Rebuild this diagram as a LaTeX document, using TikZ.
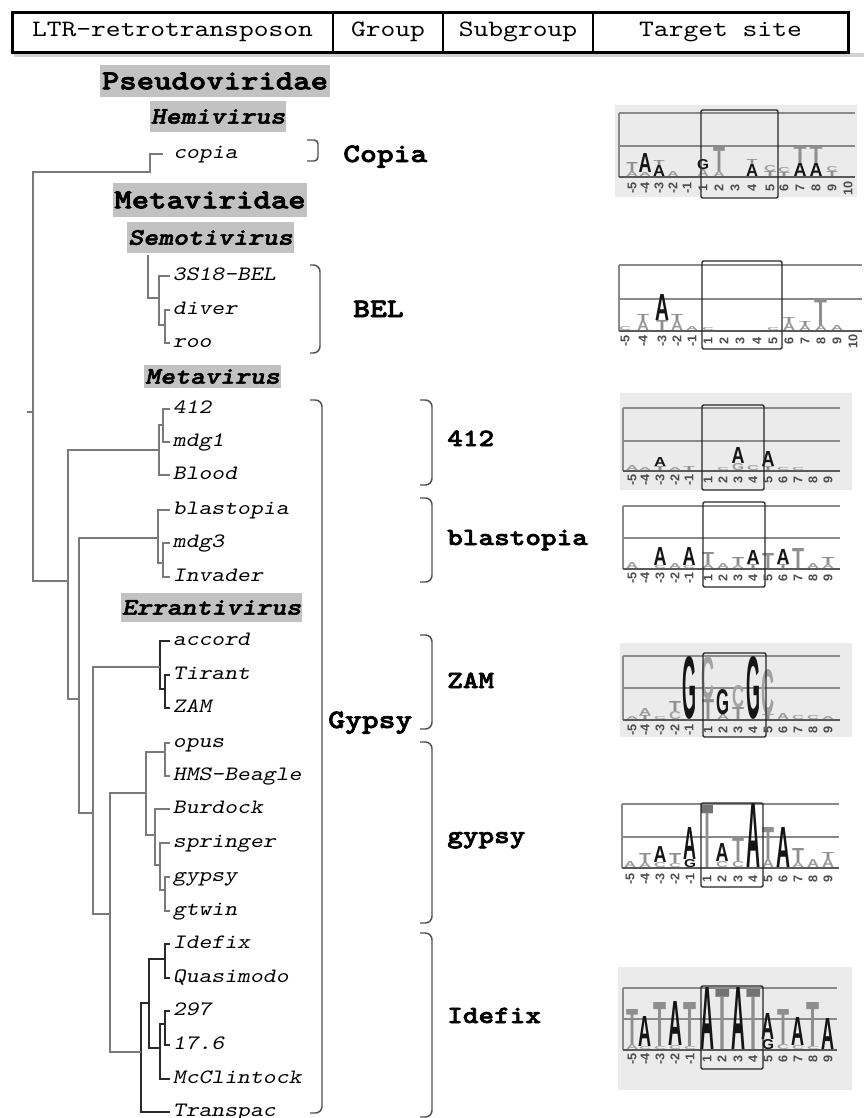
\documentclass[tikz,border=0pt]{standalone}
\usepackage{fontspec}
\usepackage{graphicx}
\newfontfamily\monof{lmmono10-regular}[Extension=.otf, ItalicFont=lmmonoslant10-regular, BoldFont=lmmonolt10-bold, BoldItalicFont=lmmonolt10-boldoblique, FakeStretch=1.2, BoldFeatures={FakeBold=2.5}, BoldItalicFeatures={FakeBold=2}]
\newfontfamily\sansf{Liberation Sans}
\newdimen\pxu \pxu=0.75pt
\newcounter{gl}
\definecolor{treeg}{HTML}{7A7A7A}
\definecolor{treed}{HTML}{2A2A2A}
\definecolor{hilite}{HTML}{C2C2C2}
\definecolor{logobg}{HTML}{EBEBEB}
\definecolor{la}{HTML}{151515}
\definecolor{lt}{HTML}{8E8E8E}
\definecolor{lc}{HTML}{A2A2A2}
\definecolor{ls}{HTML}{9A9A9A}
\definecolor{gridc}{HTML}{8A8A8A}
\definecolor{brk}{HTML}{505050}
\tikzset{
 leaf/.style={anchor=base west, inner xsep=2pt, inner ysep=0pt, text height=6pt, text depth=0pt, font=\monof\itshape\fontsize{15.3}{16}\selectfont, text=black},
 tree/.style={draw=treeg, line width=1.35pt},
 treek/.style={draw=treed, line width=1.35pt},
 brace/.style={draw=brk, line width=1.1pt, rounded corners=5pt},
 grp/.style={anchor=base west, inner sep=0pt, font=\monof\bfseries\fontsize{20}{21}\selectfont},
 sub/.style={anchor=base west, inner sep=0pt, font=\monof\bfseries\fontsize{18.6}{20}\selectfont},
 fam/.style={fill=hilite, inner sep=0pt, font=\monof\bfseries\fontsize{20.7}{22}\selectfont},
 genus/.style={fill=hilite, inner sep=0pt, font=\monof\bfseries\itshape\fontsize{17.8}{19}\selectfont},
 hdr/.style={inner sep=0pt, font=\monof\fontsize{17.6}{19}\selectfont},
 gridl/.style={draw=gridc, line width=1pt},
 basel/.style={draw=black!65, line width=1.6pt},
 lbox/.style={draw=black!85, line width=1pt, rounded corners=1pt},
 num/.style={rotate=90, inner sep=0pt, font=\sansf\bfseries\fontsize{9.5}{9.5}\selectfont, text=black!70},
 glyph/.style={anchor=south, inner sep=0pt, font=\sansf\bfseries},
}
\newcommand\logoframe[5]{%
  \draw[gridl] (#1,#3) -- (#2,#3) (#1,#4) -- (#2,#4) (#1,#3) -- (#1,#5);
  \draw[basel] (#1,#5) -- (#2,#5);}
\newcommand\logobox[4]{\draw[lbox] (#1,#2) rectangle (#3,#4);}
\newcommand\nums[2]{\foreach \xx/\lab in {#1} {\node[num] at (\xx,#2) {\lab};}}
\newcommand\LL[6]{\stepcounter{gl}\node[glyph,text=#6] (g\arabic{gl}) at (#1,#2) {\resizebox{#4\pxu}{#3\pxu}{#5}};}

\begin{document}
\begin{tikzpicture}[x=0.75pt,y=-0.75pt]
\useasboundingbox (0,0) rectangle (864,1118);

% ---------------- header ----------------
\fill[black!18] (14,53) rectangle (864,57);
\draw[line width=2.25pt] (12,12) rectangle (848,52);
\draw[line width=1.3pt] (333,12) -- (333,52) (443,12) -- (443,52) (593,12) -- (593,52);
\node[hdr] (h1) at (172.5,32) {LTR-retrotransposon};
\node[hdr] (h2) at (388,32) {Group};
\node[hdr] (h3) at (518,32) {Subgroup};
\node[hdr] (h4) at (720.5,32) {Target site};

% ---------------- taxon highlights ----------------
\node[fam, minimum width=172.5pt, minimum height=24pt] (pseudo) at (215,81) {Pseudoviridae};
\node[genus, minimum width=102pt, minimum height=23.25pt] (hemi) at (218,116.5) {Hemivirus};
\node[fam, minimum width=145.5pt, minimum height=25.5pt] (metavir) at (210,200) {Metaviridae};
\node[genus, minimum width=125.25pt, minimum height=23.25pt] (semo) at (210.5,237.5) {Semotivirus};
\node[genus, minimum width=102.75pt, minimum height=17.25pt] (meta) at (212.5,376.5) {Metavirus};
\node[genus, minimum width=135.75pt, minimum height=21.75pt] (erra) at (211.5,607.5) {Errantivirus};

% ---------------- leaves ----------------
\node[leaf, inner xsep=7.5pt] (copia) at (163,158) {copia};
\node[leaf] (s3S18) at (170,280) {3S18-BEL};
\node[leaf] (diver) at (170,314) {diver};
\node[leaf] (roo) at (170,347) {roo};
\node[leaf] (n412) at (170,413) {412};
\node[leaf] (mdg1) at (170,446) {mdg1};
\node[leaf] (Blood) at (170,479) {Blood};
\node[leaf] (blastopia) at (170,514) {blastopia};
\node[leaf] (mdg3) at (170,547) {mdg3};
\node[leaf] (Invader) at (170,581) {Invader};
\node[leaf] (accord) at (170,645) {accord};
\node[leaf] (Tirant) at (170,679) {Tirant};
\node[leaf] (ZAM) at (170,712) {ZAM};
\node[leaf] (opus) at (170,747) {opus};
\node[leaf] (HMS) at (170,780) {HMS-Beagle};
\node[leaf] (Burdock) at (170,813) {Burdock};
\node[leaf] (springer) at (170,847) {springer};
\node[leaf] (gypsy) at (170,881) {gypsy};
\node[leaf] (gtwin) at (170,915) {gtwin};
\node[leaf] (Idefix) at (170,948) {Idefix};
\node[leaf] (Quasimodo) at (170,982) {Quasimodo};
\node[leaf] (n297) at (170,1015) {297};
\node[leaf] (n176) at (170,1049) {17.6};
\node[leaf] (McClintock) at (170,1083) {McClintock};
\node[leaf] (Transpac) at (170,1116) {Transpac};

% ---------------- tree ----------------
\coordinate (Rs) at (27,412);
\coordinate (R) at (33,412);
\coordinate (Ccop) at (150,172);
\coordinate (A1) at (68,581);
\coordinate (N412) at (159,450);
\coordinate (N412a) at (163,425);
\coordinate (A2) at (79,699);
\coordinate (Nbla) at (158,538);
\coordinate (Nbla2) at (163,563);
\coordinate (A3) at (93,813);
\coordinate (NZAM) at (160,667);
\coordinate (NZ2) at (165,689);
\coordinate (A4) at (110,914);
\coordinate (Ngyp) at (146,793);
\coordinate (Nopus) at (165,752);
\coordinate (Nbur) at (155,835);
\coordinate (Nspr) at (160,865);
\coordinate (Ngg) at (165,890);
\coordinate (Nide) at (141,1052);
\coordinate (Nid2) at (149,1003);
\coordinate (NidQ) at (165,959);
\coordinate (N297) at (160,1048);
\coordinate (N2976) at (165,1024);
\coordinate (NBEL) at (159,298);
\coordinate (NBEL2) at (165,325);
\coordinate (NBELp) at (148,255);

\draw[tree] (Rs) -- (R);
\draw[tree] (copia.west) -| (Ccop) -| (R);
\draw[tree] (A1) -| (R);
\draw[tree] (n412.west) -| (N412a) (mdg1.west) -| (N412a) (N412a) -| (N412)
            (Blood.west) -| (N412) (N412) -| (A1);
\draw[tree] (A2) -| (A1);
\draw[tree] (blastopia.west) -| (Nbla) (mdg3.west) -| (Nbla2) (Invader.west) -| (Nbla2)
            (Nbla2) -| (Nbla) (Nbla) -| (A2);
\draw[tree] (A3) -| (A2);
\draw[treek] (accord.west) -| (NZAM) (Tirant.west) -| (NZ2) (ZAM.west) -| (NZ2) (NZ2) -| (NZAM);
\draw[tree] (NZAM) -| (A3);
\draw[tree] (A4) -| (A3);
\draw[tree] (opus.west) -| (Nopus) (HMS.west) -| (Nopus) (Nopus) -| (Ngyp)
            (Burdock.west) -| (Nbur) (springer.west) -| (Nspr)
            (gypsy.west) -| (Ngg) (gtwin.west) -| (Ngg) (Ngg) -| (Nspr) (Nspr) -| (Nbur)
            (Nbur) -| (Ngyp) (Ngyp) -| (A4);
\draw[treek] (Idefix.west) -| (NidQ) (Quasimodo.west) -| (NidQ) (NidQ) -| (Nid2)
            (n297.west) -| (N2976) (n176.west) -| (N2976) (N2976) -| (N297)
            (McClintock.west) -| (N297) (N297) -| (Nid2) (Nid2) -| (Nide)
            (Transpac.west) -| (Nide);
\draw[tree] (Nide) -| (A4);
\draw[tree] (s3S18.west) -| (NBEL) (diver.west) -| (NBEL2) (roo.west) -| (NBEL2)
            (NBEL2) -| (NBEL) (NBEL) -| (NBELp);

% ---------------- brackets ----------------
\draw[brace, rounded corners=3pt] (307,140) -- (318,140) -- (318,161) -- (307,161);
\draw[brace] (310,265) -- (320,265) -- (320,353) -- (310,353);
\draw[brace] (310,400) -- (322,400) -- (322,1113) -- (310,1113);
\draw[brace] (420,400) -- (432,400) -- (432,485) -- (420,485);
\draw[brace] (420,498) -- (432,498) -- (432,582) -- (420,582);
\draw[brace] (420,635) -- (432,635) -- (432,729) -- (420,729);
\draw[brace] (420,742) -- (432,742) -- (432,923) -- (420,923);
\draw[brace] (420,933) -- (432,933) -- (432,1117) -- (420,1117);

% ---------------- group / subgroup labels ----------------
\node[grp] (gCopia) at (343,162) {Copia};
\node[grp] (gBEL) at (353,317) {BEL};
\node[grp] (gGypsy) at (328,728) {Gypsy};
\node[sub] (s412) at (447,446) {412};
\node[sub] (sbla) at (447,545) {blastopia};
\node[sub] (sZAM) at (447,688) {ZAM};
\node[sub] (sgyp) at (447,843) {gypsy};
\node[sub] (side) at (447,1023) {Idefix};

% ---------------- logo 1: copia ----------------
\fill[logobg] (615,105) rectangle (857,197);
\logoframe{619}{855}{113}{146}{177}
\LL{632}{177}{5}{12}{A}{ls} \LL{632}{172}{9}{11}{T}{lt}
\LL{645}{177}{4}{12}{A}{ls} \LL{645}{173}{19}{13}{A}{la}
\LL{659}{177}{11}{12}{A}{la} \LL{659}{166}{5}{11}{T}{lt}
\LL{673}{177}{5}{11}{A}{ls}
\LL{703}{177}{7}{11}{A}{ls} \LL{703}{170}{10}{12}{G}{la}
\LL{719}{177}{5}{11}{A}{ls} \LL{719}{172}{24}{12}{T}{lt}
\LL{752}{177}{12}{12}{A}{la} \LL{752}{165}{5}{11}{T}{lt}
\LL{770}{177}{5}{12}{T}{lt} \LL{770}{172}{6}{12}{C}{lc}
\LL{784}{177}{4}{12}{T}{lt} \LL{784}{173}{5}{12}{C}{lc}
\LL{800}{177}{13}{13}{A}{la} \LL{800}{164}{17}{13}{T}{lt}
\LL{816}{177}{13}{13}{A}{la} \LL{816}{164}{17}{13}{T}{lt}
\LL{832}{177}{5}{11}{T}{lt} \LL{832}{172}{5}{11}{C}{lc}
\logobox{701}{110}{778}{198}
\nums{632/-5,645/-4,659/-3,673/-2,687/-1,703/1,719/2,735/3,752/4,770/5,784/6,800/7,816/8,832/9,848/10}{188}

% ---------------- logo 2: BEL ----------------
\logoframe{619}{862}{265}{299}{331}
\LL{625}{331}{4}{12}{C}{lc}
\LL{643}{331}{10}{12}{A}{ls} \LL{643}{321}{6}{12}{T}{lt}
\LL{662}{331}{10}{12}{T}{lt} \LL{662}{321}{26}{14}{A}{la}
\LL{677}{331}{10}{12}{A}{ls} \LL{677}{321}{6}{12}{T}{lt}
\LL{692}{331}{4}{12}{A}{ls}
\LL{708}{331}{3}{12}{C}{lc}
\LL{773}{331}{3}{12}{C}{lc}
\LL{789}{331}{8}{12}{A}{ls} \LL{789}{323}{5}{12}{T}{lt}
\LL{805}{331}{5}{12}{A}{ls} \LL{805}{326}{4}{12}{T}{lt}
\LL{821}{331}{5}{12}{A}{ls} \LL{821}{326}{27}{13}{T}{lt}
\LL{837}{331}{5}{12}{A}{ls}
\logobox{702}{261}{782}{349}
\nums{625/-5,643/-4,662/-3,677/-2,692/-1,708/1,724/2,740/3,757/4,773/5,789/6,805/7,821/8,837/9,853/10}{341}

% ---------------- logo 3: 412 ----------------
\fill[logobg] (620,393) rectangle (852,490);
\logoframe{623}{840}{408}{441}{471}
\LL{632}{471}{5}{12}{A}{ls}
\LL{645}{471}{3}{12}{A}{ls}
\LL{660}{471}{4}{12}{T}{lt} \LL{660}{467}{9}{12}{A}{la}
\LL{675}{471}{3}{12}{A}{ls}
\LL{689}{471}{4}{12}{T}{lt}
\LL{723}{471}{3}{12}{C}{lc}
\LL{738}{471}{7}{12}{G}{ls} \LL{738}{464}{16}{13}{A}{la}
\LL{753}{471}{5}{12}{C}{lc}
\LL{768}{471}{4}{12}{T}{lt} \LL{768}{467}{15}{13}{A}{la}
\LL{783}{471}{3}{12}{C}{lc}
\LL{798}{471}{3}{12}{C}{lc}
\logobox{702}{405}{764}{490}
\nums{632/-5,645/-4,660/-3,675/-2,689/-1,708/1,723/2,738/3,753/4,768/5,783/6,798/7,813/8,828/9}{480}

% ---------------- logo 4: blastopia ----------------
\logoframe{623}{840}{506}{538}{569}
\LL{632}{569}{6}{12}{A}{ls}
\LL{660}{569}{3}{12}{C}{lc} \LL{660}{566}{18}{13}{A}{la}
\LL{675}{569}{5}{12}{A}{ls}
\LL{689}{569}{3}{12}{C}{lc} \LL{689}{566}{18}{13}{A}{la}
\LL{708}{569}{4}{12}{A}{ls} \LL{708}{565}{12}{12}{T}{lt}
\LL{723}{569}{5}{12}{A}{ls}
\LL{738}{569}{3}{12}{A}{ls} \LL{738}{566}{8}{12}{T}{lt}
\LL{753}{569}{4}{12}{T}{lt} \LL{753}{565}{14}{13}{A}{la}
\LL{768}{569}{15}{12}{T}{lt}
\LL{783}{569}{4}{12}{T}{lt} \LL{783}{565}{15}{13}{A}{la}
\LL{798}{569}{20}{12}{T}{lt}
\LL{813}{569}{5}{12}{A}{ls}
\LL{828}{569}{4}{12}{A}{ls} \LL{828}{565}{7}{12}{T}{lt}
\logobox{703}{502}{765}{587}
\nums{632/-5,645/-4,660/-3,675/-2,689/-1,708/1,723/2,738/3,753/4,768/5,783/6,798/7,813/8,828/9}{578}

% ---------------- logo 5: ZAM ----------------
\fill[logobg] (620,643) rectangle (852,737);
\logoframe{623}{840}{656}{688}{720}
\LL{632}{720}{3}{12}{A}{ls}
\LL{645}{720}{4}{12}{T}{lt} \LL{645}{716}{7}{12}{A}{ls}
\LL{660}{720}{3}{12}{C}{lc}
\LL{675}{720}{8}{12}{C}{lc} \LL{675}{712}{10}{12}{T}{lt}
\LL{689}{720}{62}{14}{G}{la}
\LL{708}{720}{20}{12}{T}{lt} \LL{708}{700}{43}{13}{C}{lc}
\LL{723}{720}{5}{12}{A}{ls} \LL{723}{715}{25}{13}{G}{la}
\LL{738}{720}{12}{12}{T}{lt} \LL{738}{708}{22}{12}{C}{lc}
\LL{753}{720}{62}{14}{G}{la}
\LL{768}{720}{5}{12}{T}{lt} \LL{768}{715}{45}{13}{C}{lc}
\LL{783}{720}{6}{12}{A}{ls}
\LL{798}{720}{4}{12}{C}{lc}
\LL{813}{720}{4}{12}{C}{lc}
\LL{828}{720}{3}{12}{A}{ls}
\logobox{703}{653}{766}{737}
\nums{632/-5,645/-4,660/-3,675/-2,689/-1,708/1,723/2,738/3,753/4,768/5,783/6,798/7,813/8,828/9}{730}

% ---------------- logo 6: gypsy ----------------
\logoframe{622}{839}{804}{837}{868}
\LL{630}{868}{6}{12}{A}{ls}
\LL{645}{868}{5}{12}{A}{ls} \LL{645}{863}{9}{12}{T}{lt}
\LL{660}{868}{5}{12}{C}{lc} \LL{660}{863}{16}{13}{A}{la}
\LL{675}{868}{4}{12}{C}{lc} \LL{675}{864}{10}{12}{T}{lt}
\LL{690}{868}{8}{12}{G}{la} \LL{690}{860}{32}{13}{A}{la}
\LL{707}{868}{64}{12}{T}{lt}
\fill[black!55] (701,805) rectangle (713,813);
\LL{722}{868}{6}{12}{C}{lc} \LL{722}{862}{18}{13}{A}{la}
\LL{738}{868}{6}{12}{C}{lc} \LL{738}{862}{24}{12}{T}{lt}
\LL{753}{868}{64}{14}{A}{la}
\LL{768}{868}{8}{12}{A}{ls} \LL{768}{860}{32}{12}{T}{lt}
\LL{783}{868}{40}{14}{A}{la}
\LL{798}{868}{5}{12}{A}{ls} \LL{798}{863}{14}{12}{T}{lt}
\LL{813}{868}{8}{12}{A}{ls}
\LL{828}{868}{9}{12}{A}{ls} \LL{828}{859}{6}{12}{T}{lt}
\logobox{701}{803}{763}{887}
\nums{630/-5,645/-4,660/-3,675/-2,690/-1,707/1,722/2,738/3,753/4,768/5,783/6,798/7,813/8,828/9}{879}

% ---------------- logo 7: Idefix ----------------
\fill[logobg] (618,967) rectangle (852,1090);
\logoframe{623}{837}{988}{1019}{1050}
\LL{632}{1050}{5}{12}{A}{ls} \LL{632}{1045}{35}{12}{T}{lt}
\LL{645}{1050}{3}{12}{C}{lc} \LL{645}{1047}{30}{13}{A}{la}
\LL{660}{1050}{3}{12}{C}{lc} \LL{660}{1047}{44}{13}{T}{lt}
\LL{675}{1050}{4}{12}{C}{lc} \LL{675}{1046}{44}{14}{A}{la}
\LL{690}{1050}{3}{12}{C}{lc} \LL{690}{1047}{44}{13}{T}{lt}
\LL{707}{1050}{62}{14}{A}{la}
\LL{722}{1050}{62}{14}{T}{lt}
\LL{738}{1050}{62}{14}{A}{la}
\LL{753}{1050}{62}{14}{T}{lt}
\fill[black!55] (716,989) rectangle (729,996) (747,989) rectangle (760,996);
\LL{768}{1050}{10}{12}{G}{la} \LL{768}{1040}{26}{13}{A}{la}
\LL{783}{1050}{5}{12}{C}{lc} \LL{783}{1045}{35}{12}{T}{lt}
\LL{798}{1050}{4}{12}{C}{lc} \LL{798}{1046}{28}{13}{A}{la}
\LL{813}{1050}{3}{12}{C}{lc} \LL{813}{1047}{44}{13}{T}{lt}
\LL{828}{1050}{31}{13}{A}{la}
\logobox{701}{986}{763}{1069}
\nums{632/-5,645/-4,660/-3,675/-2,690/-1,707/1,722/2,738/3,753/4,768/5,783/6,798/7,813/8,828/9}{1059}
\end{tikzpicture}
\end{document}
